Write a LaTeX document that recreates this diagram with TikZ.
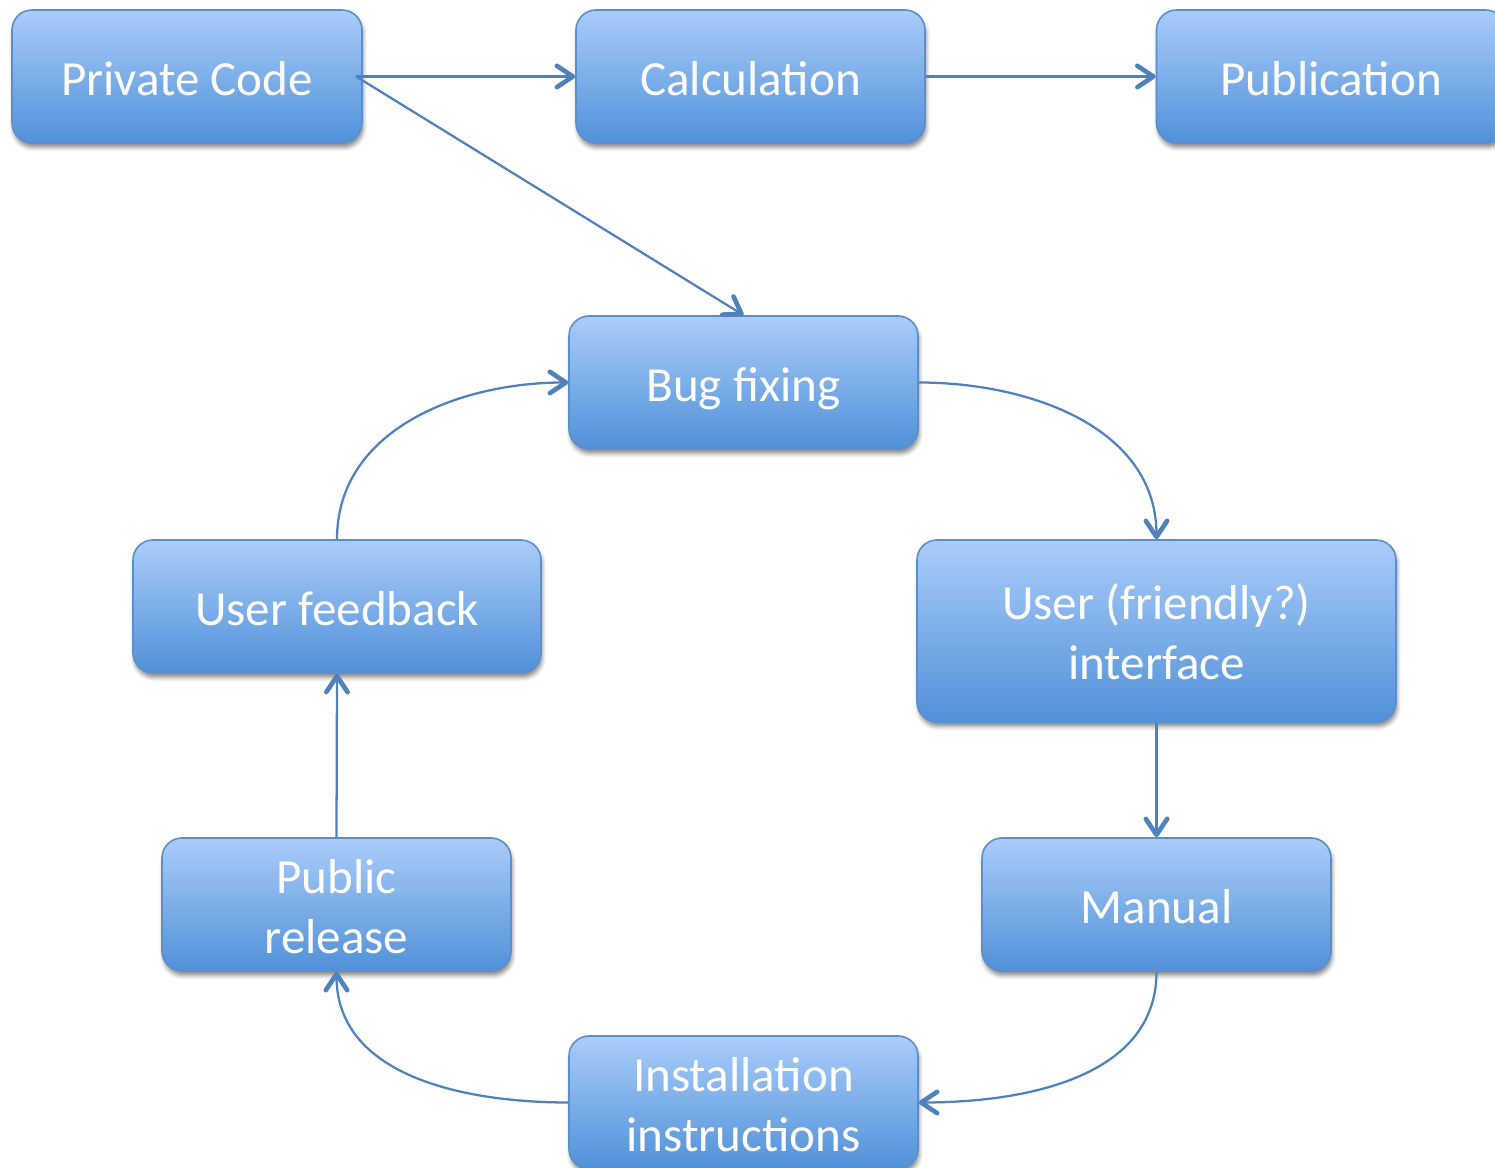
\documentclass[tikz,border=0pt]{standalone}
\usepackage{fontspec}
\setmainfont{Carlito}
\usetikzlibrary{arrows.meta,shadows.blur}

\definecolor{boxtop}{RGB}{170,204,250}
\definecolor{boxbottom}{RGB}{80,145,216}
\definecolor{boxedge}{RGB}{92,141,204}
\definecolor{linkcol}{RGB}{79,129,189}

\tikzset{
  stagebox/.style={
    draw=boxedge, line width=1.2pt, rounded corners=15pt,
    top color=boxtop, bottom color=boxbottom,
    minimum width=261.75pt, minimum height=99.75pt,
    text=white, align=center, inner sep=0pt,
    font=\fontsize{36.8pt}{45pt}\selectfont,
    % fixed ascent/descent so that every line sits at the same place
    text height=40pt, text depth=12pt,
    blur shadow={shadow xshift=1pt, shadow yshift=-3.5pt,
                 shadow blur radius=3pt, shadow opacity=45}
  },
  twoline/.style={text height=85pt, text depth=12pt},
  link/.style={
    draw=linkcol, line width=1.7pt,
    -{Straight Barb[length=12pt, width=16pt, line width=3.5pt, round]}
  }
}

\begin{document}
\begin{tikzpicture}[x=0.75pt, y=0.75pt]
  \useasboundingbox (0,0) rectangle (1495,1167);

  % top row
  \node[stagebox, minimum width=262.5pt] (pc)   at (187,1090.5)   {Private Code};
  \node[stagebox] (calc) at (750.5,1090.5) {Calculation};
  \node[stagebox] (pub)  at (1331,1090.5)  {Publication};

  % development cycle
  \node[stagebox] (bug)  at (743.5,784.5)  {Bug fixing};
  \node[stagebox, minimum width=306pt] (fb) at (337,560.5) {User feedback};
  \node[stagebox, twoline, minimum width=359.25pt, minimum height=136.5pt] (ui)
        at (1156.5,536) {User (friendly?)\\interface};
  \node[stagebox, twoline] (rel)  at (336.5,262.5)  {Public\\release};
  \node[stagebox] (man)  at (1156.5,262.5) {Manual};
  \node[stagebox, twoline] (inst) at (743.5,64.5)   {Installation\\instructions};

  \coordinate (pcout) at ([xshift=-5pt]pc.east);

  % connectors
  \draw[link] (pcout) -- (calc.west);
  \draw[link] (calc.east) -- (pub.west);
  \draw[link] (pcout) -- (bug.north);
  \draw[link] (bug.east) to[out=0, in=90] (ui.north);
  \draw[link] (ui.south) -- (man.north);
  \draw[link] (man.south) to[out=-90, in=0] (inst.east);
  \draw[link] (inst.west) to[out=180, in=-90] (rel.south);
  \draw[link] (rel.north) -- (fb.south);
  \draw[link] (fb.north) to[out=90, in=180] (bug.west);
\end{tikzpicture}
\end{document}
